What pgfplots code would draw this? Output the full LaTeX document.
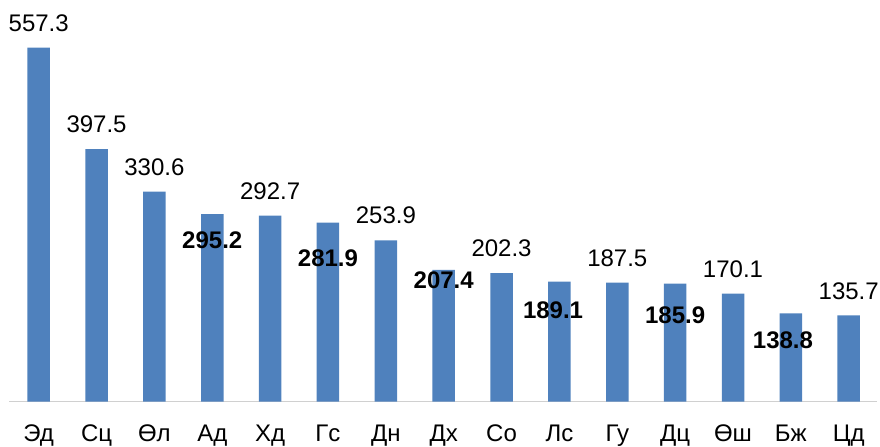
\documentclass[border=0pt]{standalone}
\usepackage{fontspec}
\setmainfont{Liberation Sans}
\usepackage{pgfplots}
\pgfplotsset{compat=1.18}
\usepackage{pgfplotstable}
\definecolor{barblue}{HTML}{4F81BD}
\definecolor{axgray}{HTML}{D0D0D0}

\pgfplotstableread{
x y lab
0 557.3 557.3
1 397.5 397.5
2 330.6 330.6
3 295.2 {}
4 292.7 292.7
5 281.9 {}
6 253.9 253.9
7 207.4 {}
8 202.3 202.3
9 189.1 {}
10 187.5 187.5
11 185.9 {}
12 170.1 170.1
13 138.8 {}
14 135.7 135.7
}\datatable

\pgfplotstableread{
x ly lab
3 241.4 295.2
5 212.4 281.9
7 178.4 207.4
8.89 131.2 189.1
11 123.4 185.9
12.864 84.0 138.8
}\boldtable

\begin{document}
\begin{tikzpicture}
\useasboundingbox (-4.65pt,-22.15pt) rectangle (435.35pt,200.85pt);
\begin{axis}[
  at={(0,0)}, anchor=south west,
  scale only axis,
  width=433.8pt, height=200.85pt,
  xmin=-0.508, xmax=14.487,
  ymin=0, ymax=632.1,
  clip=false,
  separate axis lines,
  axis y line=none,
  axis x line=bottom,
  x axis line style={-, draw=axgray, line width=0.65pt},
  xtick={0,...,14},
  xticklabels={Эд,Сц,Өл,Ад,Хд,Гс,Дн,Дх,Со,Лс,Гу,Дц,Өш,Бж,Цд},
  major tick length=0pt,
  xtick style={draw=none},
  xticklabel style={anchor=base, yshift=-19.65pt, inner sep=0pt, font=\fontsize{12}{14}\selectfont},
  ytick=\empty,
]
\addplot[ybar, bar width=0.389, fill=barblue, draw=none,
  nodes near coords, point meta=explicit symbolic,
  nodes near coords style={anchor=base, yshift=8.2pt, inner sep=0pt, text=black, font=\fontsize{12}{14}\selectfont}]
  table[x=x, y=y, meta=lab] {\datatable};
\addplot[draw=none, mark=none,
  nodes near coords, point meta=explicit symbolic,
  nodes near coords style={anchor=base, inner sep=0pt, text=black, font=\fontsize{12}{14}\selectfont\bfseries}]
  table[x=x, y=ly, meta=lab] {\boldtable};
\end{axis}
\end{tikzpicture}
\end{document}
